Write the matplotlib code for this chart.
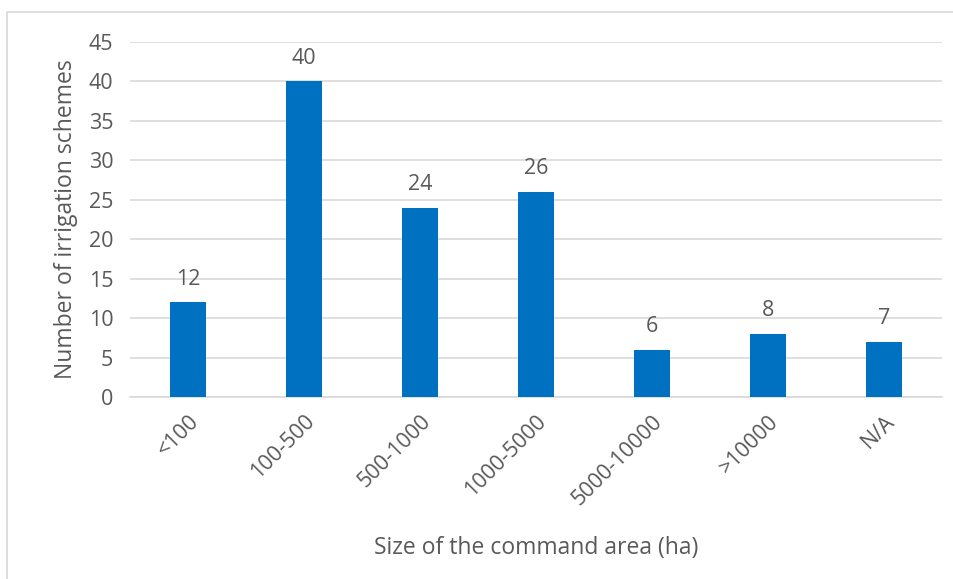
import matplotlib.pyplot as plt
from matplotlib.patches import Rectangle

# size classes of the command area and number of schemes in each
classes = ['<100', '100-500', '500-1000', '1000-5000', '5000-10000', '>10000', 'N/A']
schemes = [12, 40, 24, 26, 6, 8, 7]

bar_color = '#0070C0'
text_color = '#595959'
grid_color = '#D9D9D9'

plt.rcParams['font.family'] = ['Open Sans', 'DejaVu Sans']

fig = plt.figure(figsize=(9.54, 5.79), dpi=100)
ax = fig.add_axes([130 / 954, 1 - 397 / 579, 812 / 954, 355 / 579])

# light frame round the chart area
fig.patches.append(Rectangle((7 / 954, -0.1), 1.2, 1 - 12 / 579 + 0.1,
                             transform=fig.transFigure, fill=False,
                             edgecolor=grid_color, linewidth=1.2))

x = range(len(classes))
bars = ax.bar(x, schemes, width=0.31, color=bar_color, zorder=3)
for rect, v in zip(bars, schemes):
    ax.text(rect.get_x() + rect.get_width() / 2, v + 1.6, str(v),
            ha='center', va='bottom', fontsize=15.5, color=text_color)

ax.set_xlim(-0.5, len(classes) - 0.5)
ax.set_ylim(0, 45)
ax.set_yticks(range(0, 50, 5))
ax.yaxis.grid(True, color=grid_color, linewidth=1.2, zorder=0)
ax.set_axisbelow(True)

ax.set_xticks(list(x))
ax.set_xticklabels(classes, rotation=45, ha='right', rotation_mode='anchor')
ax.tick_params(axis='both', length=0, labelsize=15.5, labelcolor=text_color)
ax.tick_params(axis='x', pad=10)
ax.tick_params(axis='y', pad=12)

for side in ['top', 'right', 'left']:
    ax.spines[side].set_visible(False)
ax.spines['bottom'].set_color(grid_color)
ax.spines['bottom'].set_linewidth(1.2)

ax.set_ylabel('Number of irrigation schemes', fontsize=16.5, color=text_color, labelpad=8)
ax.set_xlabel('Size of the command area (ha)', fontsize=16.5, color=text_color, labelpad=19)

fig.savefig('out.png', dpi=100)
